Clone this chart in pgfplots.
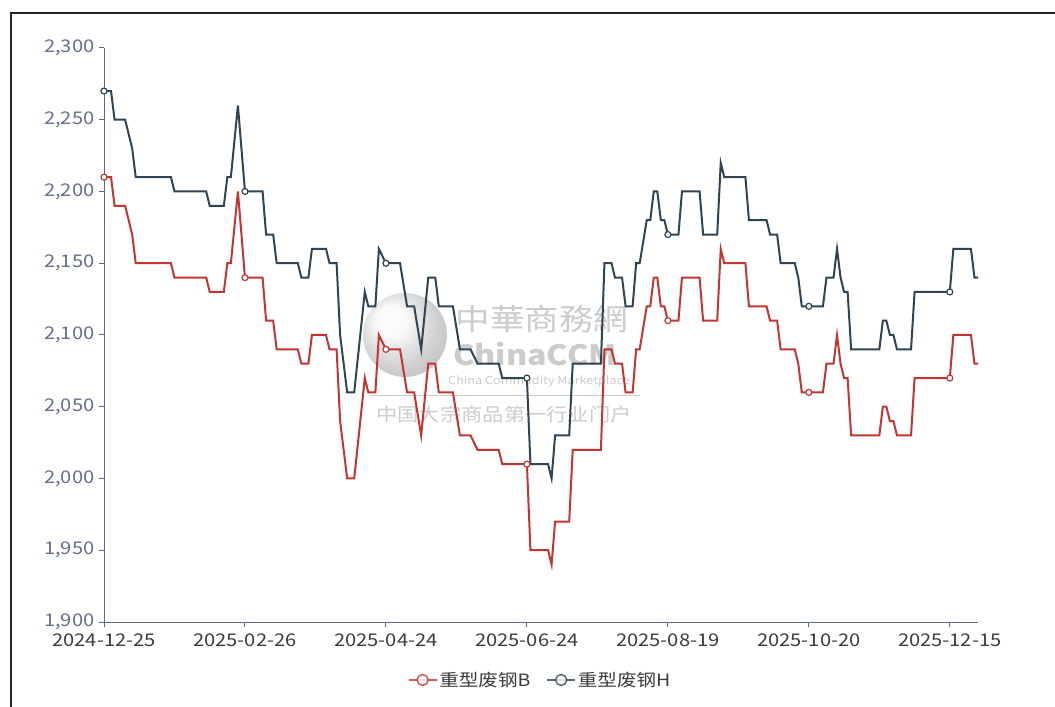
\documentclass[border=0pt]{standalone}
\usepackage{pgfplots}
\pgfplotsset{compat=1.18}
\usepackage{fontspec}
\setmainfont{Noto Sans CJK SC}[FakeStretch=1.15]
\definecolor{cB}{HTML}{C23531}
\definecolor{cH}{HTML}{2F4554}
\definecolor{axc}{HTML}{5F678F}
\definecolor{ylab}{HTML}{666E8E}
\definecolor{xlab}{HTML}{3C3C3C}
\definecolor{wm}{HTML}{CCCCCC}
\begin{document}
\begin{tikzpicture}
\useasboundingbox[fill=white] (0bp,0bp) rectangle (1055bp,707bp);
\draw[line width=1.5bp, black!85] (11bp,0bp) -- (11bp,694bp) -- (1055bp,694bp);
% watermark
\shade[ball color=gray!15, opacity=0.35] (405bp,372bp) circle (42bp);
\node[wm, font=\fontsize{30bp}{32bp}\selectfont] at (542bp,388bp) {中華商務網};
\node[wm, font=\bfseries\fontsize{28bp}{30bp}\selectfont] at (535bp,353bp) {ChinaCCM};
\node[wm, font=\fontsize{11bp}{12bp}\selectfont] at (539bp,326bp) {China Commodity Marketplace};
\draw[wm, line width=0.8bp] (370bp,312bp) -- (640bp,312bp);
\node[wm, font=\fontsize{18.5bp}{20bp}\selectfont] at (504bp,293bp) {中国大宗商品第一行业门户};
\begin{axis}[
  at={(104bp,85bp)}, anchor=south west, scale only axis,
  width=874bp, height=574bp,
  xmin=0, xmax=248, ymin=1900, ymax=2300,
  axis x line*=bottom, axis y line*=left,
  axis line style={axc, line width=1bp},
  tick align=outside, major tick length=5bp,
  tick style={axc, line width=1bp},
  xtick={0,40,...,240},
  xticklabels={2024-12-25,2025-02-26,2025-04-24,2025-06-24,2025-08-19,2025-10-20,2025-12-15},
  ytick={1900,1950,...,2300},
  yticklabel style={ylab, font=\fontsize{17.5bp}{19bp}\selectfont, xshift=-1bp},
  xticklabel style={xlab, font=\fontsize{17.5bp}{19bp}\selectfont, yshift=-3bp},
  /pgf/number format/1000 sep={,},
  /pgf/number format/assume math mode=true,
  clip=false,
  legend style={at={(0.499,-0.101)}, anchor=center, draw=none, fill=none,
    legend columns=2, font=\fontsize{17bp}{19bp}\selectfont, text=xlab,
    /tikz/every even column/.append style={column sep=14bp}},
  legend image code/.code={\draw[#1, line width=1.5bp, opacity=0.8] (0bp,0bp) -- (28bp,0bp);
     \draw[#1, line width=1.5bp, fill=white, opacity=0.8] (14bp,0bp) circle (5.5bp);},
]
\addplot[cB, line width=2bp, mark=none] coordinates {
(0,2210)(2,2210)(3,2190)(6,2190)(8,2170)(9,2150)(19,2150)(20,2140)(29,2140)(30,2130)(34,2130)(35,2150)(36,2150)(38,2200)(40,2140)(45,2140)(46,2110)(48,2110)(49,2090)(55,2090)(56,2080)(58,2080)(59,2100)(63,2100)(64,2090)(66,2090)(67,2040)(69,2000)(71,2000)(74,2070)(75,2060)(77,2060)(78,2100)(80,2090)(84,2090)(86,2060)(88,2060)(90,2030)(92,2080)(94,2080)(95,2060)(99,2060)(101,2030)(104,2030)(106,2020)(112,2020)(113,2010)(120,2010)(121,1950)(126,1950)(127,1940)(128,1970)(132,1970)(133,2020)(141,2020)(142,2090)(144,2090)(145,2080)(147,2080)(148,2060)(150,2060)(151,2090)(152,2090)(154,2120)(155,2120)(156,2140)(157,2140)(158,2120)(159,2120)(160,2110)(163,2110)(164,2140)(169,2140)(170,2110)(174,2110)(175,2160)(176,2150)(182,2150)(183,2120)(188,2120)(189,2110)(191,2110)(192,2090)(196,2090)(197,2080)(198,2060)(204,2060)(205,2080)(207,2080)(208,2100)(209,2080)(210,2070)(211,2070)(212,2030)(220,2030)(221,2050)(222,2050)(223,2040)(224,2040)(225,2030)(229,2030)(230,2070)(240,2070)(241,2100)(246,2100)(247,2080)(248,2080)
};
\addlegendentry{重型废钢B}
\addplot[cH, line width=2bp, mark=none] coordinates {
(0,2270)(2,2270)(3,2250)(6,2250)(8,2230)(9,2210)(19,2210)(20,2200)(29,2200)(30,2190)(34,2190)(35,2210)(36,2210)(38,2260)(40,2200)(45,2200)(46,2170)(48,2170)(49,2150)(55,2150)(56,2140)(58,2140)(59,2160)(63,2160)(64,2150)(66,2150)(67,2100)(69,2060)(71,2060)(74,2130)(75,2120)(77,2120)(78,2160)(80,2150)(84,2150)(86,2120)(88,2120)(90,2090)(92,2140)(94,2140)(95,2120)(99,2120)(101,2090)(104,2090)(106,2080)(112,2080)(113,2070)(120,2070)(121,2010)(126,2010)(127,2000)(128,2030)(132,2030)(133,2080)(141,2080)(142,2150)(144,2150)(145,2140)(147,2140)(148,2120)(150,2120)(151,2150)(152,2150)(154,2180)(155,2180)(156,2200)(157,2200)(158,2180)(159,2180)(160,2170)(163,2170)(164,2200)(169,2200)(170,2170)(174,2170)(175,2220)(176,2210)(182,2210)(183,2180)(188,2180)(189,2170)(191,2170)(192,2150)(196,2150)(197,2140)(198,2120)(204,2120)(205,2140)(207,2140)(208,2160)(209,2140)(210,2130)(211,2130)(212,2090)(220,2090)(221,2110)(222,2110)(223,2100)(224,2100)(225,2090)(229,2090)(230,2130)(240,2130)(241,2160)(246,2160)(247,2140)(248,2140)
};
\addlegendentry{重型废钢H}
\addplot[cB, only marks, mark=*, mark size=3bp, mark options={fill=white, line width=1.2bp}, forget plot] coordinates {
(0,2210)(40,2140)(80,2090)(120,2010)(160,2110)(200,2060)(240,2070)
};
\addplot[cH, only marks, mark=*, mark size=3bp, mark options={fill=white, line width=1.2bp}, forget plot] coordinates {
(0,2270)(40,2200)(80,2150)(120,2070)(160,2170)(200,2120)(240,2130)
};
\end{axis}
\end{tikzpicture}
\end{document}
